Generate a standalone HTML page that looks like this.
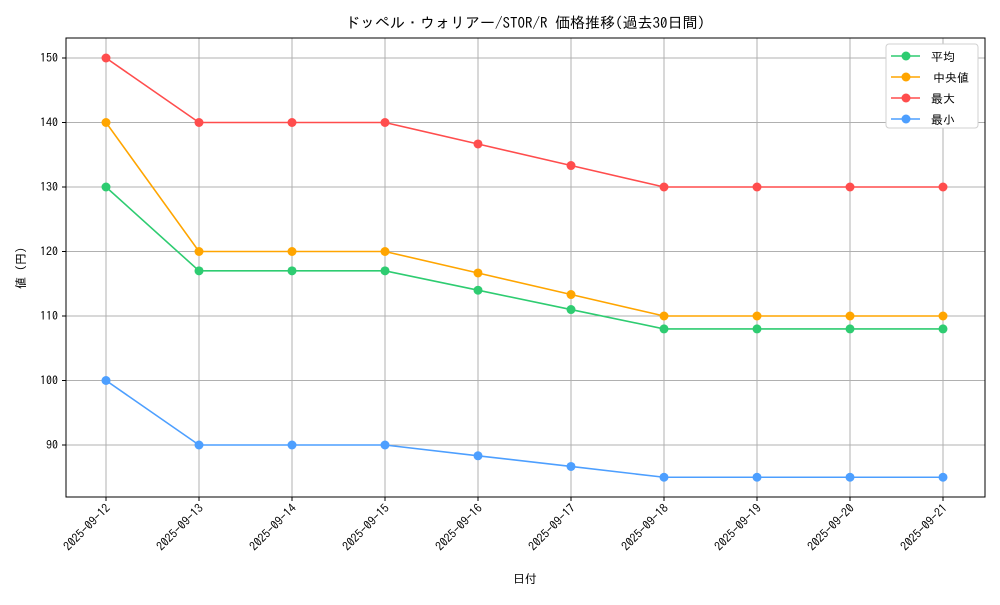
<!DOCTYPE html>
<html><head><meta charset="utf-8"><style>
body{margin:0;background:#fff;}
svg text{font-family:"IPAGothic","Noto Sans CJK JP",monospace;fill:#000;}
</style></head><body>
<svg id="c" width="1000" height="600"></svg>
<script>
const categories=["2025-09-12","2025-09-13","2025-09-14","2025-09-15","2025-09-16","2025-09-17","2025-09-18","2025-09-19","2025-09-20","2025-09-21"];
const meanVals=[130,117,117,117,114,111,108,108,108,108];
const medianVals=[140,120,120,120,116.67,113.33,110,110,110,110];
const maxVals=[150,140,140,140,136.67,133.33,130,130,130,130];
const minVals=[100,90,90,90,88.33,86.67,85,85,85,85];
const yTicks=[90,100,110,120,130,140,150];
const seriesNames=["平均","中央値","最大","最小"];
const colors=["#2ecc71","#ffa500","#ff4d4d","#4d9fff"];
const NS="http://www.w3.org/2000/svg";
const svg=document.getElementById('c');
const L=66,R=985,T=38,B=497;
const x=i=>106+i*(943-106)/(categories.length-1);
const y=v=>445+(v-90)*(58-445)/60;
function mk(t,a,p){const e=document.createElementNS(NS,t);for(const k in a)e.setAttribute(k,a[k]);(p||svg).appendChild(e);return e;}
categories.forEach((c,i)=>{
 const g=mk('line',{x1:x(i),x2:x(i),y1:T,y2:B,stroke:'#b0b0b0','stroke-width':1});
 
 
 mk('line',{x1:x(i),x2:x(i),y1:B,y2:B+4,stroke:'#000'});
 const ax=x(i)+5, ay=B+12;
 const t=mk('text',{x:ax,y:ay,'font-size':12,'text-anchor':'end',transform:`rotate(-45 ${ax} ${ay})`});
 t.textContent=c;
 
 
});
yTicks.forEach(v=>{
 const g=mk('line',{x1:L,x2:R,y1:y(v),y2:y(v),stroke:'#b0b0b0','stroke-width':1});
 
 
 mk('line',{x1:L-4,x2:L,y1:y(v),y2:y(v),stroke:'#000'});
 const t=mk('text',{x:L-8,y:y(v)+4,'font-size':12,'text-anchor':'end'});
 t.textContent=v;
 
 
});
const fr=mk('rect',{x:L,y:T,width:R-L,height:B-T,fill:'none',stroke:'#000'});


[meanVals,medianVals,maxVals,minVals].forEach((s,k)=>{
 const g=mk('g',{});
 
 
 mk('polyline',{points:s.map((v,i)=>x(i)+','+y(v)).join(' '),fill:'none',stroke:colors[k],'stroke-width':1.6},g);
 s.forEach((v,i)=>{
  const p=mk('circle',{cx:x(i),cy:y(v),r:4.5,fill:colors[k]},g);
  
  
 });
});
const lg=mk('g',{});


mk('rect',{x:886,y:44,width:92,height:84,rx:3,fill:'#fff',stroke:'#d0d0d0'},lg);
seriesNames.forEach((n,k)=>{
 const yy=56+k*21;
 const e=mk('g',{},lg);
 
 
 mk('line',{x1:891,x2:920,y1:yy,y2:yy,stroke:colors[k],'stroke-width':1.6},e);
 mk('circle',{cx:906,cy:yy,r:4.5,fill:colors[k]},e);
 const t=mk('text',{x:k==1?933:931,y:yy+5,'font-size':12},e);
 t.textContent=n;
});
const ti=mk('text',{x:525,y:28,'font-size':15,'text-anchor':'middle'});
ti.textContent='ドッペル・ウォリアー/STOR/R 価格推移(過去30日間)';


const xt=mk('text',{x:525,y:583,'font-size':12,'text-anchor':'middle'});
xt.textContent='日付';


const yt=mk('text',{x:25,y:268,'font-size':12,'text-anchor':'middle',transform:'rotate(-90 25 268)'});
yt.textContent='値 (円)';


</script>
</body></html>
